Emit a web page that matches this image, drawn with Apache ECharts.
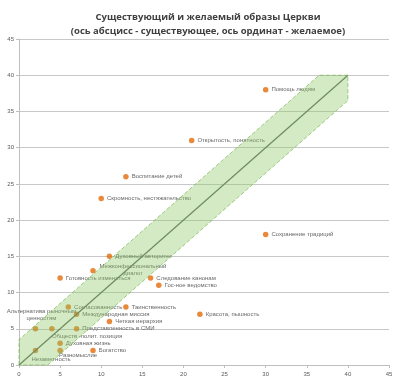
<!DOCTYPE html>
<html>
<head>
<meta charset="utf-8">
<script src="https://cdn.jsdelivr.net/npm/echarts@6/dist/echarts.min.js"></script>
<style>
html,body{margin:0;padding:0;background:#fff;}
#chart{width:400px;height:385px;}
</style>
</head>
<body>
<div id="chart"></div>
<script>
// ---- data ----
var titleText = 'Существующий и желаемый образы Церкви';
var subtitleText = '(ось абсцисс - существующее, ось ординат - желаемое)';
var pointNames = [
  'Помощь людям', 'Открытость, понятность', 'Воспитание детей', 'Скромность, нестяжательство',
  'Сохранение традиций', 'Красота, пышность', 'Духовный авторитет', 'Межконфессиональный\nдиалог',
  'Готовность изменяться', 'Следование канонам', 'Гос-ное ведомство', 'Согласованность',
  'Таинственность', 'Международная миссия', 'Четкая иерархия', 'Альтернатива рыночным\nценностям',
  'Обществ.-полит. позиция', 'Представленность в СМИ', 'Духовная жизнь', 'Разномыслие',
  'Богатство', 'Незаметность'
];
var existingValues = [30, 21, 13, 10, 30, 22, 11, 9, 5, 16, 17, 6, 13, 7, 11, 2, 4, 7, 5, 5, 9, 2];
var desiredValues  = [38, 31, 26, 23, 18, 7, 15, 13, 12, 12, 11, 8, 8, 7, 6, 5, 5, 5, 3, 2, 2, 2];
var diagonalLine = [[0, 0], [40, 40]];
var bandPolygon = [[0, 0], [0, 3.5], [36.5, 40], [40, 40], [40, 36.5], [3.5, 0]];
var axisTicks = [0, 5, 10, 15, 20, 25, 30, 35, 40, 45];

// ---- label placement (style only) ----
var labelOverrides = {
  'Межконфессиональный\nдиалог': {position: [2.75 + 40, 2.75 - 1], align: 'center', verticalAlign: 'middle'},
  'Альтернатива рыночным\nценностям': {position: [2.75 + 6, 2.75 - 14], align: 'center', verticalAlign: 'middle'},
  'Обществ.-полит. позиция': {position: [2.75, 2.75 + 8], align: 'left', verticalAlign: 'middle'},
  'Разномыслие': {position: [2.75 - 1, 2.75 + 4.5], align: 'left', verticalAlign: 'middle'},
  'Незаметность': {position: [2.75 - 4, 2.75 + 9], align: 'left', verticalAlign: 'middle'}
};

var scatterData = pointNames.map(function (n, i) {
  var item = {name: n, value: [existingValues[i], desiredValues[i]]};
  if (labelOverrides[n]) item.label = labelOverrides[n];
  return item;
});

var chart = echarts.init(document.getElementById('chart'), null, {renderer: 'canvas'});
var axisLabelStyle = {color: '#595959', fontSize: 6, fontFamily: 'Liberation Sans'};
chart.setOption({
  animation: false,
  backgroundColor: '#ffffff',
  title: {
    text: titleText + '\n' + subtitleText,
    left: 203, top: 5, textAlign: 'center',
    textStyle: {fontSize: 9.5, fontWeight: 'bold', color: '#404040', fontFamily: 'Open Sans', lineHeight: 14}
  },
  grid: {left: 19, right: 11, top: 39, bottom: 20, containLabel: false},
  xAxis: {
    type: 'value', min: axisTicks[0], max: axisTicks[axisTicks.length - 1], interval: 5,
    axisLine: {show: true, lineStyle: {color: '#bfbfbf'}},
    axisTick: {show: true, length: 3, lineStyle: {color: '#bfbfbf'}},
    splitLine: {show: false},
    axisLabel: Object.assign({margin: 6}, axisLabelStyle)
  },
  yAxis: {
    type: 'value', min: axisTicks[0], max: axisTicks[axisTicks.length - 1], interval: 5,
    axisLine: {show: true, lineStyle: {color: '#bfbfbf'}},
    axisTick: {show: true, length: 3, lineStyle: {color: '#bfbfbf'}},
    splitLine: {show: true, lineStyle: {color: '#c8c8c8', width: 1}},
    axisLabel: Object.assign({margin: 5}, axisLabelStyle)
  },
  series: [
    {
      type: 'scatter', z: 2,
      symbol: 'circle', symbolSize: 5.5,
      itemStyle: {color: '#e36c0a'},
      label: {
        show: true, position: 'right', distance: 3,
        formatter: '{b}', fontSize: 6, color: '#404040', fontFamily: 'Liberation Sans', lineHeight: 7
      },
      data: scatterData
    },
    {
      type: 'custom', z: 4, silent: true,
      data: [0],
      renderItem: function (params, api) {
        var pts = bandPolygon.map(function (p) { return api.coord(p); });
        return {
          type: 'polygon',
          shape: {points: pts},
          style: {fill: 'rgba(140,200,100,0.38)', stroke: 'rgba(120,185,85,0.7)', lineWidth: 1, lineDash: [4, 2]}
        };
      }
    },
    {
      type: 'line', z: 5, silent: true,
      symbol: 'none',
      lineStyle: {color: '#6e8b60', width: 1.2},
      data: diagonalLine
    }
  ]
});
</script>
</body>
</html>
